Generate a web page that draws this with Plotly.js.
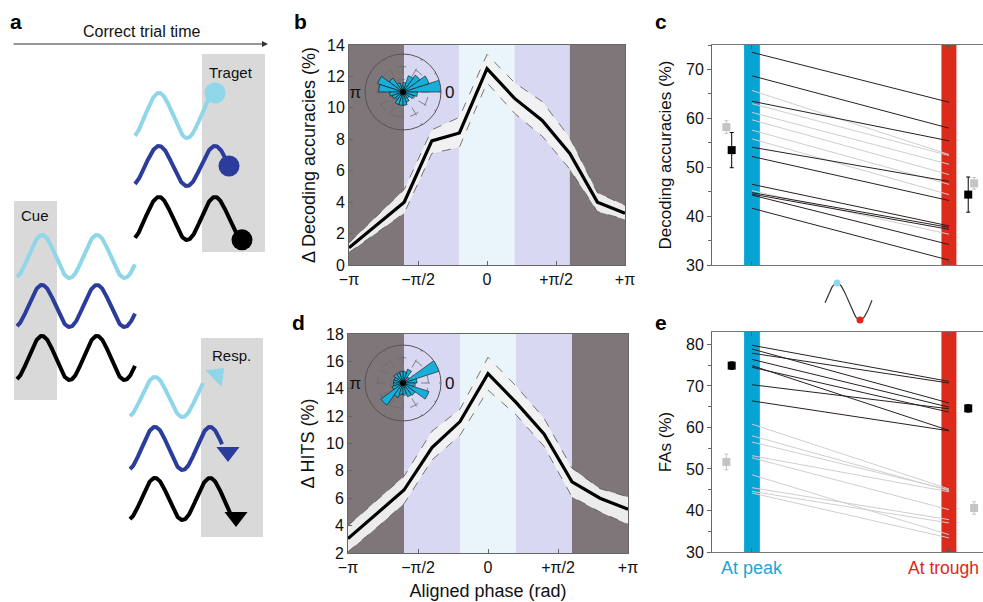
<!DOCTYPE html>
<html><head><meta charset="utf-8">
<script src="https://cdn.plot.ly/plotly-3.0.1.min.js"></script>
<style>html,body{margin:0;padding:0;background:#fff}#chart{width:983px;height:602px}</style>
</head><body><div id="chart"></div><script>
const PI = Math.PI;
// ---------- panels b & d (phase in units of pi) ----------
const phaseBins = [-1,-0.8,-0.6,-0.4,-0.2,0,0.2,0.4,0.6,0.8,1];
const phaseTickVals = [-1,-0.5,0,0.5,1];
const phaseTickText = ['−π','−π/2','0','+π/2','+π'];
const decMean  = [1.1,2.55,4.0,7.9,8.4,12.5,10.6,9.2,7.1,4.0,3.3];
const decUpper = [1.4,3.1,4.8,8.6,9.4,13.4,11.6,10.4,8.1,4.6,3.8];
const decLower = [0.8,2.05,3.3,7.1,7.5,11.6,9.65,8.2,6.1,3.4,2.9];
const hitMean  = [3.05,4.8,6.6,9.7,11.6,15.1,13.0,10.7,7.2,6.0,5.2];
const hitUpper = [4.0,5.8,7.6,10.9,12.5,16.3,14.2,11.85,8.2,6.7,6.1];
const hitLower = [2.1,3.8,5.6,8.8,10.6,13.9,12.1,9.8,6.1,5.0,4.1];
const bandEdges  = [-1,-0.6,-0.2,0.2,0.6,1];
const bandColors = ['#7e7679','#d9d8f3','#e9f5fb','#d9d8f3','#7e7679'];
// rose insets (18-degree bins, relative length)
const roseAngles = [9,27,45,63,81,99,117,135,153,171,189,207,225,243,261,279,297,315,333,351];
const roseB = [1.0,0.72,0.55,0.45,0.25,0.15,0.25,0.45,0.7,0.64,0.35,0.3,0.25,0.35,0.35,0.35,0.28,0.2,0.3,0.38];
const roseD = [0.37,1.0,0.2,0.38,0.3,0.3,0.28,0.3,0.25,0.25,0.25,0.3,0.72,0.4,0.3,0.3,0.38,0.4,0.72,0.3];
// ---------- panel c (decoding accuracy, peak -> trough) ----------
const cBlackPeak   = [73.5,68.7,63.5,54.1,52.2,46.5,44.8,44.5,44.3,41.6];
const cBlackTrough = [63.3,58.0,55.4,47.1,43.2,38.0,37.7,37.3,34.2,31.0];
const cGrayPeak    = [65.7,63.0,61.2,59.7,57.6,55.8,45.2];
const cGrayTrough  = [52.6,52.4,50.6,48.5,46.5,44.4,36.3];
const cMeanPeak = [53.5,58.2], cErrPeak = [3.6,1.3];      // [black, gray]
const cMeanTrough = [44.4,46.7], cErrTrough = [3.6,1.2];
// ---------- panel e (FAs) ----------
const eBlackPeak   = [79.8,78.9,77.9,76.4,74.9,74.5,70.3,66.4];
const eBlackTrough = [71.1,65.9,70.7,64.9,59.3,63.7,64.5,59.2];
const eGrayPeak    = [60.8,58.0,56.5,53.2,52.7,48.6,45.5,44.6,44.2];
const eGrayTrough  = [45.2,44.8,45.0,44.5,40.2,34.2,37.8,37.0,33.4];
const eMeanPeak = [74.9,51.7], eErrPeak = [0.9,1.9];
const eMeanTrough = [64.6,40.6], eErrTrough = [0.9,1.5];
const condTicks = ['At peak','At trough'];

const C_LB = '#8fd6e9', C_DB = '#2b3c9c', C_BK = '#000000';
const FONT = 'Liberation Sans, Arial, Helvetica, sans-serif';
const traces = [];
const px = a => a.map(v => v*PI);

function bandTraces(up, lo, mean, xa, ya){
  traces.push({x:px(phaseBins), y:up, xaxis:xa, yaxis:ya, mode:'lines', line:{color:'#555', width:0.8, dash:'dash'}, hoverinfo:'skip'});
  traces.push({x:px(phaseBins), y:lo, xaxis:xa, yaxis:ya, mode:'lines', fill:'tonexty', fillcolor:'rgba(242,242,242,0.95)', line:{color:'#555', width:0.8, dash:'dash'}, hoverinfo:'skip'});
  traces.push({x:px(phaseBins), y:mean, xaxis:xa, yaxis:ya, mode:'lines', line:{color:'#000', width:3.2}});
}
bandTraces(decUpper, decLower, decMean, 'x', 'y');
bandTraces(hitUpper, hitLower, hitMean, 'x2', 'y2');

function pairLines(a, b, color, xa, ya){
  const xs = [], ys = [];
  a.forEach((v,i)=>{ xs.push(1,2,null); ys.push(v,b[i],null); });
  traces.push({x:xs, y:ys, xaxis:xa, yaxis:ya, mode:'lines', line:{color:color, width:1}, connectgaps:false});
}
pairLines(cGrayPeak, cGrayTrough, '#cfcfcf', 'x3', 'y3');
pairLines(cBlackPeak, cBlackTrough, '#2b2020', 'x3', 'y3');
pairLines(eGrayPeak, eGrayTrough, '#cfcfcf', 'x4', 'y4');
pairLines(eBlackPeak, eBlackTrough, '#2b2020', 'x4', 'y4');

function summary(meanP, errP, meanT, errT, xa, ya){
  const cols = ['#000','#c4c4c4'];
  const offP = [-0.103,-0.13], offT = [0.098,0.128];
  [1,0].forEach(k=>{
    traces.push({x:[1+offP[k]], y:[meanP[k]], xaxis:xa, yaxis:ya, mode:'markers',
      marker:{symbol:'square', size:8, color:cols[k], opacity:1},
      error_y:{type:'data', array:[errP[k]], color:cols[k], thickness:1, width:2}});
    traces.push({x:[2+offT[k]], y:[meanT[k]], xaxis:xa, yaxis:ya, mode:'markers',
      marker:{symbol:'square', size:8, color:cols[k], opacity:1},
      error_y:{type:'data', array:[errT[k]], color:cols[k], thickness:1, width:2}});
  });
}
summary(cMeanPeak, cErrPeak, cMeanTrough, cErrTrough, 'x3', 'y3');
summary(eMeanPeak, eErrPeak, eMeanTrough, eErrTrough, 'x4', 'y4');

// rose insets
[['polar',roseB],['polar2',roseD]].forEach(([sp, r])=>{
  traces.push({type:'barpolar', subplot:sp, r:r, theta:roseAngles, width:roseAngles.map(()=>18),
    marker:{color:'#17afd9', opacity:1, line:{color:'#111', width:0.6}}});
  traces.push({type:'scatterpolar', subplot:sp, r:[0], theta:[0], mode:'markers', marker:{color:'#000', size:6}});
});

// ---------- schematic (panel a and peak/trough icon), pixel-unit overlay axes ----------
function wave(x0, x1, peakX, period, center, amp){
  const xs=[], ys=[];
  for(let x=x0; x<=x1+0.01; x+=0.5){ xs.push(x); ys.push(center - amp*Math.cos(2*PI*(x-peakX)/period)); }
  return {xs, ys};
}
const rowColors = [C_LB, C_DB, C_BK];
const cueCenters = [256.5,306,358], cueAmp = [21.5,21,22];
const tgtCenters = [115.5,166,218.5], tgtAmp = [22.5,20,21.5], tgtEnd = [215,229,242];
const rspCenters = [397,448.5,499], rspAmp = [20,21.5,21], rspEnd = [203,222,230];
rowColors.forEach((c,i)=>{
  let w = wave(17,135,42,55,cueCenters[i],cueAmp[i]);
  traces.push({x:w.xs, y:w.ys, xaxis:'x5', yaxis:'y5', mode:'lines', line:{color:c, width:4}});
  w = wave(135,tgtEnd[i],159,56,tgtCenters[i],tgtAmp[i]);
  traces.push({x:w.xs, y:w.ys, xaxis:'x5', yaxis:'y5', mode:'lines', line:{color:c, width:4}});
  traces.push({x:[w.xs[w.xs.length-1]], y:[w.ys[w.ys.length-1]], xaxis:'x5', yaxis:'y5', mode:'markers', marker:{color:c, size:21, opacity:1}});
  w = wave(130,rspEnd[i],155,55,rspCenters[i],rspAmp[i]);
  traces.push({x:w.xs, y:w.ys, xaxis:'x5', yaxis:'y5', mode:'lines', line:{color:c, width:4}});
});
[[217,375,45],[228,452,180],[236,517,180]].forEach((p,i)=>{
  traces.push({x:[p[0]], y:[p[1]], xaxis:'x5', yaxis:'y5', mode:'markers',
    marker:{symbol:'triangle-up', angle:p[2], size:20, color:rowColors[i], opacity:1, line:{width:0}}});
});
const icon = wave(825,872,837,46,301.5,18.5);
traces.push({x:icon.xs, y:icon.ys, xaxis:'x5', yaxis:'y5', mode:'lines', line:{color:'#333', width:1.2}});
traces.push({x:[837,860], y:[283,320], xaxis:'x5', yaxis:'y5', mode:'markers', marker:{color:['#8fd6ec','#e0261c'], size:7, opacity:1}});

// ---------- layout ----------
const W=983, H=602;
const dx = (a,b)=>[a/W, b/W], dy = (top,bot)=>[(H-bot)/H, (H-top)/H];
const tickFont = {family:FONT, size:16, color:'#111'};
const titleFont = {family:FONT, size:18, color:'#111'};
function phaseAxis(dom, anchor){
  return {domain:dom, anchor:anchor, range:[-PI,PI], tickmode:'array', tickvals:px(phaseTickVals), ticktext:phaseTickText,
    showline:true, mirror:true, linecolor:'#666', linewidth:1, ticks:'inside', ticklen:4, tickcolor:'#666',
    showgrid:false, zeroline:false, tickfont:tickFont, fixedrange:true};
}
function valAxis(dom, anchor, range, dtick, title, mirror){
  return {domain:dom, anchor:anchor, range:range, dtick:dtick, tick0:range[0], showline:true, mirror:mirror, linecolor:'#666', linewidth:1,
    ticks:mirror?'inside':'outside', ticklen:4, tickcolor:'#666', showgrid:false, zeroline:false, tickfont:tickFont,
    title:{text:title, font:titleFont, standoff:6}, fixedrange:true};
}
const shapes = [];
[['x','y'],['x2','y2']].forEach(([xa,ya])=>{
  bandColors.forEach((c,i)=>shapes.push({type:'rect', xref:xa, yref:ya+' domain', x0:bandEdges[i]*PI, x1:bandEdges[i+1]*PI, y0:0, y1:1, fillcolor:c, line:{width:0}, layer:'below'}));
});
[['x3','y3'],['x4','y4']].forEach(([xa,ya])=>{
  shapes.push({type:'rect', xref:xa, yref:ya+' domain', x0:0.96, x1:1.04, y0:0, y1:1, fillcolor:'#05a4d5', line:{width:0}, layer:'below'});
  shapes.push({type:'rect', xref:xa, yref:ya+' domain', x0:1.962, x1:2.038, y0:0, y1:1, fillcolor:'#dc2a1b', line:{width:0}, layer:'below'});
});
// schematic grey boxes (pixel units)
[[14,57,201,400],[202,265,54,252],[201,263,338,537]].forEach(b=>shapes.push({type:'rect', xref:'x5', yref:'y5', x0:b[0], x1:b[1], y0:b[2], y1:b[3], fillcolor:'#d9d9d9', line:{width:0}, layer:'below'}));

function condAxis(dom, anchor){
  return {domain:dom, anchor:anchor, range:[0.797,2.173], tickmode:'array', tickvals:[1,2], ticktext:['',''],
    showticklabels:false, showline:true, mirror:'ticks', linecolor:'#777', linewidth:1, ticks:'inside', ticklen:4, tickcolor:'#555',
    showgrid:false, zeroline:false, fixedrange:true};
}
function accAxis(dom, anchor, range, title){
  const a = valAxis(dom, anchor, range, 10, title, false);
  a.minor = {dtick:5, ticks:'outside', ticklen:3, tickcolor:'#666'};
  a.title.standoff = 10;
  a.title.font = {family:FONT, size:17, color:'#111'};
  return a;
}
function polarCfg(cx, cy){
  const r = 38;
  return {domain:{x:dx(cx-r,cx+r), y:dy(cy-r,cy+r)}, bgcolor:'rgba(0,0,0,0)',
    radialaxis:{range:[0,1], tickmode:'array', tickvals:[1/3,2/3], showticklabels:false, ticks:'', showline:false,
      gridcolor:'#6a6a6a', gridwidth:0.8, griddash:'dash'},
    angularaxis:{tickmode:'array', tickvals:[0,30,60,90,120,150,180,210,240,270,300,330], ticktext:['0','','','','','','π','','','','',''],
      ticks:'', showline:true, linecolor:'#555', linewidth:1, gridcolor:'#6a6a6a', gridwidth:0.8, griddash:'dash',
      rotation:0, direction:'counterclockwise', tickfont:{family:FONT, size:17, color:'#111'}}};
}
const annotations = [];
const lbl = (t,x,y)=>annotations.push({text:'<b>'+t+'</b>', x:x, y:y, xref:'x5', yref:'y5', showarrow:false, font:{family:FONT, size:21, color:'#000'}});
lbl('a',16,21); lbl('b',300,21); lbl('c',661,21); lbl('d',298,322); lbl('e',661,322);
const txt = (t,x,y,s)=>annotations.push({text:t, x:x, y:y, xref:'x5', yref:'y5', showarrow:false, font:{family:FONT, size:s, color:'#111'}});
txt('Correct trial time',141,31,16); txt('Cue',35,215,15); txt('Traget',231,72,15); txt('Resp.',231,355,15);
annotations.push({text:'', x:268, y:44, ax:12, ay:44, xref:'x5', yref:'y5', axref:'x5', ayref:'y5', showarrow:true, arrowhead:2, arrowsize:1, arrowwidth:1.2, arrowcolor:'#333'});
// condition labels under panel e (the trough label is kept fully inside the page)
annotations.push({text:condTicks[0], x:1, y:(H-568)/H, xref:'x4', yref:'paper', showarrow:false, xanchor:'center', yanchor:'middle',
  font:{family:FONT, size:18, color:'#1aa6d6'}});
annotations.push({text:condTicks[1], x:981/W, y:(H-568)/H, xref:'paper', yref:'paper', showarrow:false, xanchor:'right', yanchor:'middle',
  font:{family:FONT, size:17.5, color:'#dc2a1b'}});

const layout = {
  width:W, height:H, margin:{l:0,r:0,t:0,b:0}, paper_bgcolor:'#fff', plot_bgcolor:'rgba(0,0,0,0)', showlegend:false,
  font:{family:FONT, size:15, color:'#111'},
  xaxis: phaseAxis(dx(349,625),'y'),
  yaxis: valAxis(dy(45,265),'x',[0,14],2,'Δ Decoding accuracies (%)',true),
  xaxis2: Object.assign(phaseAxis(dx(348,628),'y2'), {title:{text:'Aligned phase (rad)', font:titleFont, standoff:9}}),
  yaxis2: valAxis(dy(334,553),'x2',[2,18],2,'Δ HITS (%)',true),
  xaxis3: condAxis(dx(712,983),'y3'),
  yaxis3: accAxis(dy(45,265),'x3',[30,75],'Decoding accuracies (%)'),
  xaxis4: condAxis(dx(712,983),'y4'),
  yaxis4: accAxis(dy(332,552),'x4',[30,83],'FAs (%)'),
  xaxis5: {domain:[0,1], range:[0,W], visible:false, fixedrange:true},
  yaxis5: {domain:[0,1], range:[H,0], visible:false, fixedrange:true, anchor:'x5'},
  polar: polarCfg(403,92),
  polar2: polarCfg(403,383),
  shapes: shapes, annotations: annotations
};
Plotly.newPlot('chart', traces, layout, {staticPlot:true, displayModeBar:false});
</script></body></html>
